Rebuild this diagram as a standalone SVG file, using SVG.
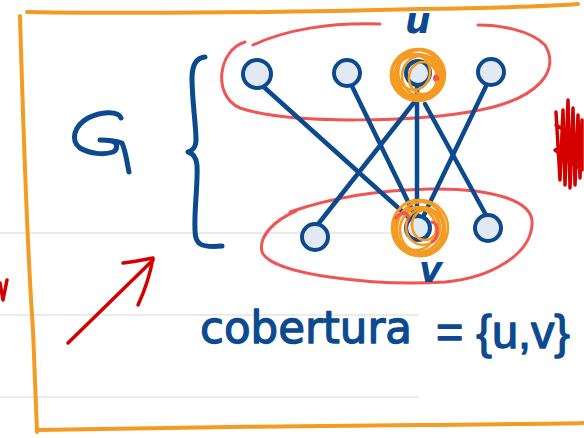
<svg xmlns="http://www.w3.org/2000/svg" width="584" height="438" viewBox="0 0 584 438">
  <style>
    .rule { stroke: #e4e4e4; stroke-width: 1.5; fill: none; }
    .frame { stroke: #f39b22; stroke-width: 4; fill: none; stroke-linecap: round; stroke-linejoin: round; }
    .ink { stroke: #0c4a90; stroke-width: 5; fill: none; stroke-linecap: round; stroke-linejoin: round; }
    .edge { stroke: #0c4a90; stroke-width: 4.5; fill: none; stroke-linecap: round; }
    .node { fill: #e3e9f2; stroke: #0c4a90; stroke-width: 4; }
    .set { stroke: #f05555; stroke-width: 3; fill: none; stroke-linecap: round; }
    .hl { stroke: #f39b22; stroke-width: 2.6; fill: none; }
    .red { stroke: #d40000; stroke-width: 3.5; fill: none; stroke-linecap: round; stroke-linejoin: round; }
    .hand { fill: #0c4a90; font-family: "DejaVu Sans", "Liberation Sans", sans-serif; }
    .caption { stroke: #0c4a90; stroke-width: 1.3; stroke-linejoin: round; }
    .narrow { font-family: "Liberation Sans", "DejaVu Sans", sans-serif; }
  </style>

  <!-- notebook ruling -->
  <g id="ruling">
    <line class="rule" x1="0" y1="233" x2="415" y2="233"/>
    <line class="rule" x1="0" y1="315" x2="418" y2="315"/>
    <line class="rule" x1="0" y1="397" x2="418" y2="397"/>
  </g>

  <!-- hand-drawn frame -->
  <path class="frame" d="M20 16 C23 120 28 260 33 330 C35 380 36 410 37 432"/>
  <path class="frame" d="M27 12 C150 14 300 12 420 9 C490 8 540 7 578 4"/>
  <path class="frame" d="M37 430 C150 428 300 426 420 425 C500 424 550 424 584 423"/>

  <!-- stray marks -->
  <path class="red" d="M0 283 L3 300 L7 280"/>
  <path class="red" stroke-width="5" d="M556 112 L560 180 L563 110 L565 185 L568 100 L570 188 L573 108 L575 185 L578 115 L580 178 L582 120 L582 170 L555 150 L580 140 L556 125"/>

  <!-- red arrow -->
  <g id="arrow">
    <path class="red" d="M68 343 L153 260"/>
    <path class="red" d="M123 263 C133 262 143 260 153 258 C150 275 145 290 138 305"/>
  </g>

  <!-- graph label -->
  <g id="label-G">
    <path class="ink" d="M121 118 C118 110 100 112 88 118 C74 126 70 140 80 148 C90 154 104 155 113 152 C118 150 118 142 112 141 C106 140 101 140 100 140 C108 140 116 141 122 143 C126 152 127 163 129 172"/>
  </g>

  <!-- brace grouping the graph -->
  <path class="ink" d="M205 57 C196 58 192 66 192 78 C192 100 196 125 196 140 C196 147 192 151 188 152 C192 153 196 156 197 165 C198 185 194 210 195 230 C195 244 200 248 222 246"/>

  <!-- vertex sets -->
  <g id="sets">
    <path class="set" d="M380 24 C330 22 285 30 253 45 M245 42 C218 50 212 96 240 108 C290 125 420 122 480 110 C540 98 560 70 545 45 C530 30 500 25 478 25"/>
    <path class="set" d="M290 212 C330 198 380 190 430 189 C490 188 535 200 532 225 C530 255 490 278 445 282 C380 286 272 276 262 252 C258 236 275 220 296 211"/>
  </g>

  <!-- edges -->
  <g id="connectors">
    <line class="edge" x1="256" y1="80" x2="414" y2="222"/>
    <line class="edge" x1="349" y1="80" x2="414" y2="214"/>
    <line class="edge" x1="416" y1="100" x2="315" y2="228"/>
    <line class="edge" x1="417" y1="86" x2="417" y2="215"/>
    <line class="edge" x1="425" y1="104" x2="492" y2="226"/>
    <line class="edge" x1="488" y1="82" x2="424" y2="215"/>
  </g>

  <!-- top side -->
  <g id="node-a"><circle class="node" cx="257" cy="74" r="14"/></g>
  <g id="node-b"><circle class="node" cx="347" cy="73" r="13"/></g>
  <g id="node-u">
    <circle class="node" cx="418" cy="73" r="12"/>
    <g class="hl">
      <ellipse cx="418" cy="75" rx="27" ry="26"/>
      <ellipse cx="420" cy="74" rx="24" ry="25"/>
      <ellipse cx="416" cy="77" rx="22" ry="21"/>
      <ellipse cx="421" cy="76" rx="19" ry="20"/>
      <ellipse cx="417" cy="73" rx="25" ry="23"/>
      <ellipse cx="423" cy="78" rx="14" ry="16"/>
      <ellipse cx="414" cy="72" rx="16" ry="18"/>
      <ellipse cx="419" cy="74" rx="21" ry="24"/>
      <ellipse cx="417" cy="76" rx="26" ry="22"/>
    </g>
    <path class="set" stroke-width="2.5" d="M435 80 C433 76 437 74 438 79"/>
    <text class="hand" x="405" y="33" font-size="36" font-style="italic" font-weight="bold">u</text>
  </g>
  <g id="node-d"><circle class="node" cx="491" cy="72" r="13"/></g>

  <!-- bottom side -->
  <g id="node-e"><circle class="node" cx="315" cy="237" r="13"/></g>
  <g id="node-v">
    <circle class="node" cx="418" cy="228" r="12"/>
    <g class="hl">
      <ellipse cx="420" cy="228" rx="28" ry="28"/>
      <ellipse cx="418" cy="226" rx="25" ry="26"/>
      <ellipse cx="422" cy="230" rx="22" ry="23"/>
      <ellipse cx="416" cy="229" rx="20" ry="21"/>
      <ellipse cx="423" cy="227" rx="17" ry="18"/>
      <ellipse cx="419" cy="231" rx="26" ry="24"/>
      <ellipse cx="425" cy="225" rx="13" ry="15"/>
      <ellipse cx="421" cy="229" rx="24" ry="27"/>
    </g>
    <path class="set" stroke-width="2.5" d="M396 218 C402 210 410 212 408 220 M432 222 C440 224 438 240 432 242"/>
    <text class="hand" x="419" y="282" font-size="36" font-style="italic" font-weight="bold">v</text>
  </g>
  <g id="node-f"><circle class="node" cx="488" cy="228" r="13"/></g>

  <!-- caption -->
  <text class="hand caption" x="200" y="343" font-size="44" textLength="212" lengthAdjust="spacingAndGlyphs">cobertura</text>
  <text class="hand caption narrow" x="436" y="348" font-size="46" textLength="134" lengthAdjust="spacingAndGlyphs">= {u,v}</text>
</svg>
